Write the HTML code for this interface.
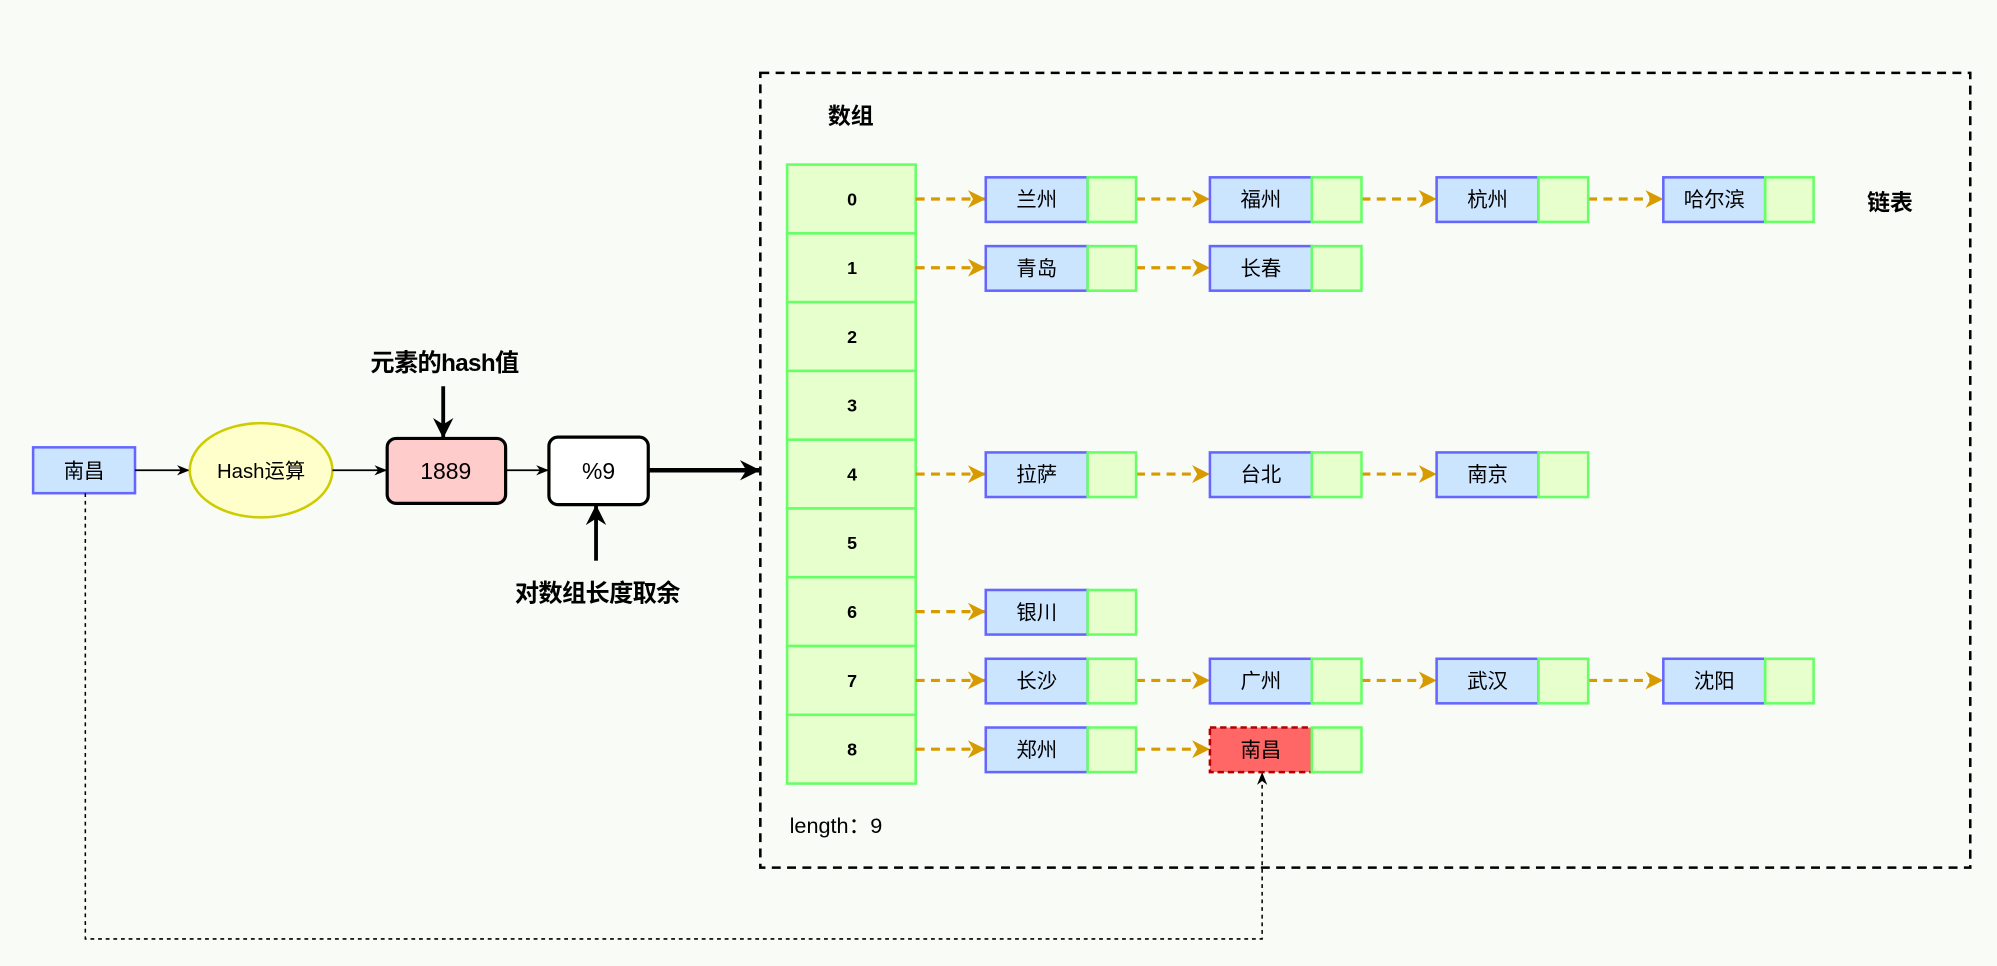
<!DOCTYPE html>
<html><head><meta charset="utf-8"><style>
html,body{margin:0;padding:0;background:#f9fbf6;}
svg{display:block}
text{font-family:"Liberation Sans","Noto Sans CJK SC",sans-serif;}
</style></head><body>
<svg width="1997" height="966" viewBox="0 0 1568 758" xmlns="http://www.w3.org/2000/svg">
<defs>
<marker id="ao" markerWidth="14" markerHeight="14" refX="13" refY="7" orient="auto" markerUnits="userSpaceOnUse"><path d="M0,0 L14,7 L0,14 L4,7 Z" fill="#d79b00"/></marker>
<marker id="ab" markerWidth="10" markerHeight="10" refX="9" refY="5" orient="auto" markerUnits="userSpaceOnUse"><path d="M0,1 L10,5 L0,9 L3,5 Z" fill="#000"/></marker>
<marker id="abig" markerWidth="16" markerHeight="16" refX="15" refY="8" orient="auto" markerUnits="userSpaceOnUse"><path d="M0,0 L16,8 L0,16 L5,8 Z" fill="#000"/></marker>
</defs>
<rect width="1568" height="758" fill="#f9fbf6"/>
<rect x="597" y="57" width="950" height="624" fill="none" stroke="#000" stroke-width="2" stroke-dasharray="7,5"/>
<text x="668" y="97" font-size="18" font-weight="bold" text-anchor="middle">数组</text>
<text x="1484" y="165" font-size="18" font-weight="bold" text-anchor="middle">链表</text>
<g fill="#e6ffcc" stroke="#66ff66" stroke-width="2">
<rect x="618" y="129" width="101" height="54"/><rect x="618" y="183" width="101" height="54"/>
<rect x="618" y="237" width="101" height="54"/><rect x="618" y="291" width="101" height="54"/>
<rect x="618" y="345" width="101" height="54"/><rect x="618" y="399" width="101" height="54"/>
<rect x="618" y="453" width="101" height="54"/><rect x="618" y="507" width="101" height="54"/>
<rect x="618" y="561" width="101" height="54"/>
</g>
<g font-size="14" font-weight="bold" text-anchor="middle">
<text x="669" y="161">0</text><text x="669" y="215">1</text><text x="669" y="269">2</text>
<text x="669" y="323">3</text><text x="669" y="377">4</text><text x="669" y="431">5</text>
<text x="669" y="485">6</text><text x="669" y="539">7</text><text x="669" y="593">8</text>
</g>
<g stroke="#d79b00" stroke-width="2.5" stroke-dasharray="7,5" fill="none" marker-end="url(#ao)">
<line x1="719" y1="156" x2="773" y2="156"/><line x1="892" y1="156" x2="949" y2="156"/><line x1="1069" y1="156" x2="1127" y2="156"/><line x1="1247" y1="156" x2="1305" y2="156"/>
<line x1="719" y1="210" x2="773" y2="210"/><line x1="892" y1="210" x2="949" y2="210"/>
<line x1="719" y1="372" x2="773" y2="372"/><line x1="892" y1="372" x2="949" y2="372"/><line x1="1069" y1="372" x2="1127" y2="372"/>
<line x1="719" y1="480" x2="773" y2="480"/>
<line x1="719" y1="534" x2="773" y2="534"/><line x1="892" y1="534" x2="949" y2="534"/><line x1="1069" y1="534" x2="1127" y2="534"/><line x1="1247" y1="534" x2="1305" y2="534"/>
<line x1="719" y1="588" x2="773" y2="588"/><line x1="892" y1="588" x2="949" y2="588"/>
</g>
<g font-size="16" text-anchor="middle">
<g stroke-width="2">
<rect x="774" y="139" width="80" height="35" fill="#cce5ff" stroke="#6666ff"/><rect x="854" y="139" width="38" height="35" fill="#e6ffcc" stroke="#66ff66"/>
<rect x="950" y="139" width="80" height="35" fill="#cce5ff" stroke="#6666ff"/><rect x="1030" y="139" width="39" height="35" fill="#e6ffcc" stroke="#66ff66"/>
<rect x="1128" y="139" width="80" height="35" fill="#cce5ff" stroke="#6666ff"/><rect x="1208" y="139" width="39" height="35" fill="#e6ffcc" stroke="#66ff66"/>
<rect x="1306" y="139" width="80" height="35" fill="#cce5ff" stroke="#6666ff"/><rect x="1386" y="139" width="38" height="35" fill="#e6ffcc" stroke="#66ff66"/>
<rect x="774" y="193" width="80" height="35" fill="#cce5ff" stroke="#6666ff"/><rect x="854" y="193" width="38" height="35" fill="#e6ffcc" stroke="#66ff66"/>
<rect x="950" y="193" width="80" height="35" fill="#cce5ff" stroke="#6666ff"/><rect x="1030" y="193" width="39" height="35" fill="#e6ffcc" stroke="#66ff66"/>
<rect x="774" y="355" width="80" height="35" fill="#cce5ff" stroke="#6666ff"/><rect x="854" y="355" width="38" height="35" fill="#e6ffcc" stroke="#66ff66"/>
<rect x="950" y="355" width="80" height="35" fill="#cce5ff" stroke="#6666ff"/><rect x="1030" y="355" width="39" height="35" fill="#e6ffcc" stroke="#66ff66"/>
<rect x="1128" y="355" width="80" height="35" fill="#cce5ff" stroke="#6666ff"/><rect x="1208" y="355" width="39" height="35" fill="#e6ffcc" stroke="#66ff66"/>
<rect x="774" y="463" width="80" height="35" fill="#cce5ff" stroke="#6666ff"/><rect x="854" y="463" width="38" height="35" fill="#e6ffcc" stroke="#66ff66"/>
<rect x="774" y="517" width="80" height="35" fill="#cce5ff" stroke="#6666ff"/><rect x="854" y="517" width="38" height="35" fill="#e6ffcc" stroke="#66ff66"/>
<rect x="950" y="517" width="80" height="35" fill="#cce5ff" stroke="#6666ff"/><rect x="1030" y="517" width="39" height="35" fill="#e6ffcc" stroke="#66ff66"/>
<rect x="1128" y="517" width="80" height="35" fill="#cce5ff" stroke="#6666ff"/><rect x="1208" y="517" width="39" height="35" fill="#e6ffcc" stroke="#66ff66"/>
<rect x="1306" y="517" width="80" height="35" fill="#cce5ff" stroke="#6666ff"/><rect x="1386" y="517" width="38" height="35" fill="#e6ffcc" stroke="#66ff66"/>
<rect x="774" y="571" width="80" height="35" fill="#cce5ff" stroke="#6666ff"/><rect x="854" y="571" width="38" height="35" fill="#e6ffcc" stroke="#66ff66"/>
<rect x="950" y="571" width="80" height="35" fill="#ff6666" stroke="#b20000" stroke-dasharray="5,3"/><rect x="1030" y="571" width="39" height="35" fill="#e6ffcc" stroke="#66ff66"/>
</g>
<text x="814" y="162">兰州</text><text x="990" y="162">福州</text><text x="1168" y="162">杭州</text><text x="1346" y="162">哈尔滨</text>
<text x="814" y="216">青岛</text><text x="990" y="216">长春</text>
<text x="814" y="378">拉萨</text><text x="990" y="378">台北</text><text x="1168" y="378">南京</text>
<text x="814" y="486">银川</text>
<text x="814" y="540">长沙</text><text x="990" y="540">广州</text><text x="1168" y="540">武汉</text><text x="1346" y="540">沈阳</text>
<text x="814" y="594">郑州</text><text x="990" y="594">南昌</text>
</g>
<text x="620" y="654" font-size="17">length：9</text>
<rect x="26" y="351" width="80" height="36" fill="#cce5ff" stroke="#6666ff" stroke-width="2"/>
<text x="66" y="375" font-size="16" text-anchor="middle">南昌</text>
<line x1="106" y1="369" x2="148" y2="369" stroke="#000" stroke-width="1.3" marker-end="url(#ab)"/>
<ellipse cx="205" cy="369" rx="56" ry="37" fill="#ffffcc" stroke="#cccc00" stroke-width="2"/>
<text x="205" y="375" font-size="16" text-anchor="middle">Hash运算</text>
<line x1="261" y1="369" x2="303" y2="369" stroke="#000" stroke-width="1.3" marker-end="url(#ab)"/>
<rect x="304" y="344" width="93" height="51" rx="7" fill="#ffcccc" stroke="#000" stroke-width="2.5"/>
<text x="350" y="376" font-size="18" text-anchor="middle">1889</text>
<line x1="397" y1="369" x2="430" y2="369" stroke="#000" stroke-width="1.3" marker-end="url(#ab)"/>
<rect x="431" y="343" width="78" height="53" rx="7" fill="#fff" stroke="#000" stroke-width="2.5"/>
<text x="470" y="376" font-size="18" text-anchor="middle">%9</text>
<line x1="509" y1="369" x2="596" y2="369" stroke="#000" stroke-width="3.5" marker-end="url(#abig)"/>
<line x1="348" y1="303" x2="348" y2="343" stroke="#000" stroke-width="3" marker-end="url(#abig)"/>
<text x="349" y="291" font-size="19" font-weight="bold" text-anchor="middle" letter-spacing="-0.5">元素的hash值</text>
<line x1="468" y1="440" x2="468" y2="397" stroke="#000" stroke-width="3" marker-end="url(#abig)"/>
<text x="469" y="472" font-size="19" font-weight="bold" text-anchor="middle" letter-spacing="-0.5">对数组长度取余</text>
<polyline points="67,387 67,737 991,737 991,607" fill="none" stroke="#000" stroke-width="1.2" stroke-dasharray="3,3" marker-end="url(#ab)"/>
</svg>
</body></html>
